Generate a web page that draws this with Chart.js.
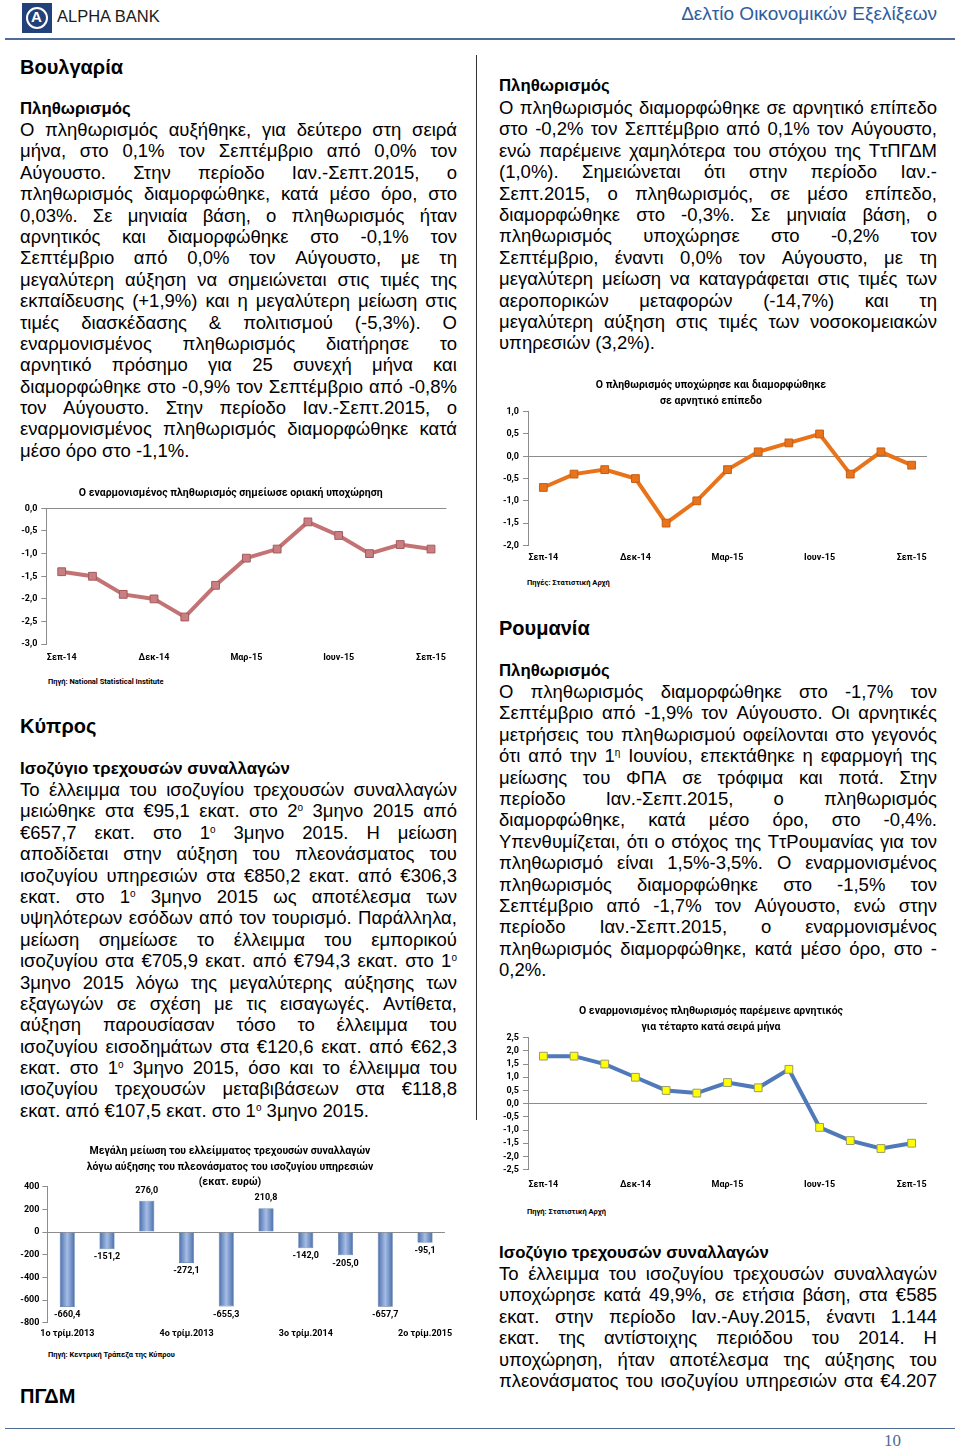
<!DOCTYPE html>
<html lang="el">
<head>
<meta charset="utf-8">
<title>Δελτίο Οικονομικών Εξελίξεων</title>
<script src="https://cdn.jsdelivr.net/npm/chart.js@4.4.1/dist/chart.umd.min.js"></script>
<style>
  body { margin: 0; width: 960px; height: 1450px; position: relative; overflow: hidden; background: #fff; color: #000;
         font-family: "Liberation Sans", Arial, sans-serif; }
  .abs { position: absolute; }
  .h1 { position: absolute; font-weight: bold; font-size: 20px; line-height: 24px; }
  .sub { position: absolute; font-weight: bold; font-size: 16.8px; line-height: 22px; }
  .txt { position: absolute; width: 437px; font-size: 18.5px; line-height: 21.4px; }
  .ln { display: flex; justify-content: space-between; white-space: nowrap; height: 21.4px; }
  .ln.last { display: block; }
  sup { font-size: 10px; line-height: 0; vertical-align: 6px; }
  canvas { position: absolute; }
  .src { position: absolute; font-family: Roboto, sans-serif; font-weight: bold; font-size: 7.5px; line-height: 10px; }
</style>
</head>
<body>

<!-- header -->
<div class="abs" style="left:22px;top:3px;width:30px;height:30px;background:#22407a;"></div>
<div class="abs" style="left:26px;top:7px;width:18px;height:18px;border:2px solid #fff;border-radius:50%;"></div>
<div class="abs" style="left:31px;top:9px;color:#fff;font-weight:bold;font-size:15px;line-height:16px;">A</div>
<div class="abs" style="left:57px;top:7px;font-size:16.5px;line-height:18px;color:#1a1a1a;">ALPHA BANK</div>
<div class="abs" style="right:23px;top:3px;font-size:19px;line-height:22px;color:#2e5c9e;">Δελτίο Οικονομικών Εξελίξεων</div>
<div class="abs" style="left:5px;top:38px;width:950px;height:2px;background:#4d6d95;"></div>

<!-- column divider -->
<div class="abs" style="left:476px;top:55px;width:1px;height:1065px;background:#333;"></div>

<!-- Bulgaria -->
<div class="h1" style="left:20px;top:55px;">Βουλγαρία</div>
<div class="sub" style="left:20px;top:98px;">Πληθωρισμός</div>
<div class="txt" style="left:20px;top:119px;">
  <div class="ln">Ο πληθωρισμός αυξήθηκε, για δεύτερο στη σειρά</div>
  <div class="ln">μήνα, στο 0,1% τον Σεπτέμβριο από 0,0% τον</div>
  <div class="ln">Αύγουστο. Στην περίοδο Ιαν.-Σεπτ.2015, ο</div>
  <div class="ln">πληθωρισμός διαμορφώθηκε, κατά μέσο όρο, στο</div>
  <div class="ln">0,03%. Σε μηνιαία βάση, ο πληθωρισμός ήταν</div>
  <div class="ln">αρνητικός και διαμορφώθηκε στο -0,1% τον</div>
  <div class="ln">Σεπτέμβριο από 0,0% τον Αύγουστο, με τη</div>
  <div class="ln">μεγαλύτερη αύξηση να σημειώνεται στις τιμές της</div>
  <div class="ln">εκπαίδευσης (+1,9%) και η μεγαλύτερη μείωση στις</div>
  <div class="ln">τιμές διασκέδασης &amp; πολιτισμού (-5,3%). Ο</div>
  <div class="ln">εναρμονισμένος πληθωρισμός διατήρησε το</div>
  <div class="ln">αρνητικό πρόσημο για 25 συνεχή μήνα και</div>
  <div class="ln">διαμορφώθηκε στο -0,9% τον Σεπτέμβριο από -0,8%</div>
  <div class="ln">τον Αύγουστο. Στην περίοδο Ιαν.-Σεπτ.2015, ο</div>
  <div class="ln">εναρμονισμένος πληθωρισμός διαμορφώθηκε κατά</div>
  <div class="ln last">μέσο όρο στο -1,1%.</div>
</div>
<canvas id="bgChart" width="440" height="191" style="left:15px;top:480px;"></canvas>
<div class="src" style="left:48px;top:677px;">Πηγή: National Statistical Institute</div>

<!-- Cyprus -->
<div class="h1" style="left:20px;top:714px;">Κύπρος</div>
<div class="sub" style="left:20px;top:758px;">Ισοζύγιο τρεχουσών συναλλαγών</div>
<div class="txt" style="left:20px;top:779px;">
  <div class="ln">Το έλλειμμα του ισοζυγίου τρεχουσών συναλλαγών</div>
  <div class="ln">μειώθηκε στα €95,1 εκατ. στο 2<sup>ο</sup> 3μηνο 2015 από</div>
  <div class="ln">€657,7 εκατ. στο 1<sup>ο</sup> 3μηνο 2015. Η μείωση</div>
  <div class="ln">αποδίδεται στην αύξηση του πλεονάσματος του</div>
  <div class="ln">ισοζυγίου υπηρεσιών στα €850,2 εκατ. από €306,3</div>
  <div class="ln">εκατ. στο 1<sup>ο</sup> 3μηνο 2015 ως αποτέλεσμα των</div>
  <div class="ln">υψηλότερων εσόδων από τον τουρισμό. Παράλληλα,</div>
  <div class="ln">μείωση σημείωσε το έλλειμμα του εμπορικού</div>
  <div class="ln">ισοζυγίου στα €705,9 εκατ. από €794,3 εκατ. στο 1<sup>ο</sup></div>
  <div class="ln">3μηνο 2015 λόγω της μεγαλύτερης αύξησης των</div>
  <div class="ln">εξαγωγών σε σχέση με τις εισαγωγές. Αντίθετα,</div>
  <div class="ln">αύξηση παρουσίασαν τόσο το έλλειμμα του</div>
  <div class="ln">ισοζυγίου εισοδημάτων στα €120,6 εκατ. από €62,3</div>
  <div class="ln">εκατ. στο 1<sup>ο</sup> 3μηνο 2015, όσο και το έλλειμμα του</div>
  <div class="ln">ισοζυγίου τρεχουσών μεταβιβάσεων στα €118,8</div>
  <div class="ln last">εκατ. από €107,5 εκατ. στο 1<sup>ο</sup> 3μηνο 2015.</div>
</div>
<canvas id="cyChart" width="450" height="204" style="left:15px;top:1140px;"></canvas>
<div class="src" style="left:48px;top:1350px;">Πηγή: Κεντρική Τράπεζα της Κύπρου</div>

<div class="h1" style="left:20px;top:1384px;">ΠΓΔΜ</div>

<!-- FYROM (continued) -->
<div class="sub" style="left:499px;top:75px;">Πληθωρισμός</div>
<div class="txt" style="left:499px;top:97px;width:438px;">
  <div class="ln">Ο πληθωρισμός διαμορφώθηκε σε αρνητικό επίπεδο</div>
  <div class="ln">στο -0,2% τον Σεπτέμβριο από 0,1% τον Αύγουστο,</div>
  <div class="ln">ενώ παρέμεινε χαμηλότερα του στόχου της ΤτΠΓΔΜ</div>
  <div class="ln">(1,0%). Σημειώνεται ότι στην περίοδο Ιαν.-</div>
  <div class="ln">Σεπτ.2015, ο πληθωρισμός, σε μέσο επίπεδο,</div>
  <div class="ln">διαμορφώθηκε στο -0,3%. Σε μηνιαία βάση, ο</div>
  <div class="ln">πληθωρισμός υποχώρησε στο -0,2% τον</div>
  <div class="ln">Σεπτέμβριο, έναντι 0,0% τον Αύγουστο, με τη</div>
  <div class="ln">μεγαλύτερη μείωση να καταγράφεται στις τιμές των</div>
  <div class="ln">αεροπορικών μεταφορών (-14,7%) και τη</div>
  <div class="ln">μεγαλύτερη αύξηση στις τιμές των νοσοκομειακών</div>
  <div class="ln last">υπηρεσιών (3,2%).</div>
</div>
<canvas id="mkChart" width="445" height="199" style="left:495px;top:372px;"></canvas>
<div class="src" style="left:527px;top:578px;">Πηγές: Στατιστική Αρχή</div>

<!-- Romania -->
<div class="h1" style="left:499px;top:616px;">Ρουμανία</div>
<div class="sub" style="left:499px;top:660px;">Πληθωρισμός</div>
<div class="txt" style="left:499px;top:681px;width:438px;">
  <div class="ln">Ο πληθωρισμός διαμορφώθηκε στο -1,7% τον</div>
  <div class="ln">Σεπτέμβριο από -1,9% τον Αύγουστο. Οι αρνητικές</div>
  <div class="ln">μετρήσεις του πληθωρισμού οφείλονται στο γεγονός</div>
  <div class="ln">ότι από την 1<sup>η</sup> Ιουνίου, επεκτάθηκε η εφαρμογή της</div>
  <div class="ln">μείωσης του ΦΠΑ σε τρόφιμα και ποτά. Στην</div>
  <div class="ln">περίοδο Ιαν.-Σεπτ.2015, ο πληθωρισμός</div>
  <div class="ln">διαμορφώθηκε, κατά μέσο όρο, στο -0,4%.</div>
  <div class="ln">Υπενθυμίζεται, ότι ο στόχος της ΤτΡουμανίας για τον</div>
  <div class="ln">πληθωρισμό είναι 1,5%-3,5%. Ο εναρμονισμένος</div>
  <div class="ln">πληθωρισμός διαμορφώθηκε στο -1,5% τον</div>
  <div class="ln">Σεπτέμβριο από -1,7% τον Αύγουστο, ενώ στην</div>
  <div class="ln">περίοδο Ιαν.-Σεπτ.2015, ο εναρμονισμένος</div>
  <div class="ln">πληθωρισμός διαμορφώθηκε, κατά μέσο όρο, στο -</div>
  <div class="ln last">0,2%.</div>
</div>
<canvas id="roChart" width="445" height="201" style="left:495px;top:998px;"></canvas>
<div class="src" style="left:527px;top:1207px;">Πηγή: Στατιστική Αρχή</div>

<div class="sub" style="left:499px;top:1242px;">Ισοζύγιο τρεχουσών συναλλαγών</div>
<div class="txt" style="left:499px;top:1263px;width:438px;">
  <div class="ln">Το έλλειμμα του ισοζυγίου τρεχουσών συναλλαγών</div>
  <div class="ln">υποχώρησε κατά 49,9%, σε ετήσια βάση, στα €585</div>
  <div class="ln">εκατ. στην περίοδο Ιαν.-Αυγ.2015, έναντι 1.144</div>
  <div class="ln">εκατ. της αντίστοιχης περιόδου του 2014.  Η</div>
  <div class="ln">υποχώρηση, ήταν αποτέλεσμα της αύξησης του</div>
  <div class="ln">πλεονάσματος του ισοζυγίου υπηρεσιών στα €4.207</div>
</div>

<!-- footer -->
<div class="abs" style="left:5px;top:1428px;width:950px;height:1px;background:#4d6d95;"></div>
<div class="abs" style="left:884px;top:1431px;font-family:'Liberation Serif',serif;font-size:17px;line-height:20px;color:#4d6d95;">10</div>

<script>
// monthly series, Sep-14 .. Sep-15
const months = ["Σεπ-14", "Οκτ-14", "Νοε-14", "Δεκ-14", "Ιαν-15", "Φεβ-15", "Μαρ-15",
                "Απρ-15", "Μαϊ-15", "Ιουν-15", "Ιουλ-15", "Αυγ-15", "Σεπ-15"];
const bgHicp = [-1.4, -1.5, -1.9, -2.0, -2.4, -1.7, -1.1, -0.9, -0.3, -0.6, -1.0, -0.8, -0.9];
const mkCpi = [-0.7, -0.4, -0.3, -0.5, -1.5, -1.0, -0.3, 0.1, 0.3, 0.5, -0.4, 0.1, -0.2];
const roHicp = [1.8, 1.8, 1.5, 1.0, 0.5, 0.4, 0.8, 0.6, 1.3, -0.9, -1.4, -1.7, -1.5];

// quarterly current account, Cyprus (EUR mn)
const quarters = ["1ο τρίμ.2013", "2ο τρίμ.2013", "3ο τρίμ.2013", "4ο τρίμ.2013",
                  "1ο τρίμ.2014", "2ο τρίμ.2014", "3ο τρίμ.2014", "4ο τρίμ.2014",
                  "1ο τρίμ.2015", "2ο τρίμ.2015"];
const cyCurrent = [-660.4, -151.2, 276.0, -272.1, -655.3, 210.8, -142.0, -205.0, -657.7, -95.1];

// axis ranges [min, max, step]
const bgRange = [-3, 0, 0.5];
const mkRange = [-2, 1, 0.5];
const roRange = [-2.5, 2.5, 0.5];
const cyRange = [-800, 400, 200];

// turn each justified line into spread words
document.querySelectorAll(".ln:not(.last)").forEach(ln => {
  const words = ln.innerHTML.trim().split(/\s+/);
  ln.innerHTML = words.map(w => "<span>" + w + "</span>").join("");
});

const chartFont = "Roboto, 'Noto Sans', sans-serif";
const axisGray = "#8c8c8c";
const comma = (v, d) => Number(v).toFixed(d).replace(".", ",");

Chart.defaults.font.family = chartFont;
Chart.defaults.color = "#000";

function lineChart(id, data, range, cfg) {
  const ctx = document.getElementById(id).getContext("2d");
  return new Chart(ctx, {
    type: "line",
    data: {
      labels: months,
      datasets: [{
        data: data,
        borderColor: cfg.line,
        borderWidth: 4,
        tension: 0,
        pointStyle: "rect",
        pointRadius: 5.5,
        pointBackgroundColor: cfg.fill,
        pointBorderColor: cfg.edge,
        pointBorderWidth: 1,
      }],
    },
    options: {
      responsive: false,
      animation: false,
      layout: { padding: { left: 0, right: cfg.padRight, top: 0, bottom: 0 } },
      plugins: {
        legend: { display: false },
        tooltip: { enabled: false },
        title: {
          display: true,
          text: cfg.title,
          font: { size: 10.5, weight: "bold", lineHeight: cfg.titleLh },
          color: "#000",
          padding: cfg.titlePad,
        },
      },
      scales: {
        x: {
          offset: true,
          grid: { display: false, drawTicks: false },
          border: { display: false },
          ticks: {
            autoSkip: false,
            maxRotation: 0,
            padding: cfg.xPad,
            font: { size: 9, weight: "bold" },
            callback: (v, i) => (i % 3 === 0 ? months[i] : ""),
          },
        },
        y: {
          min: range[0],
          max: range[1],
          afterFit: s => { s.width = cfg.yWidth; },
          grid: {
            color: c => (c.tick && c.tick.value === 0 ? axisGray : "rgba(0,0,0,0)"),
            tickColor: axisGray,
            tickLength: 5,
          },
          border: { display: true, color: axisGray },
          ticks: {
            stepSize: range[2],
            autoSkip: false,
            padding: 4,
            font: { size: 9, weight: "bold" },
            callback: v => comma(v, 1),
          },
        },
      },
    },
  });
}

lineChart("bgChart", bgHicp, bgRange, {
  title: "Ο εναρμονισμένος πληθωρισμός σημείωσε οριακή υποχώρηση",
  titleLh: 1.2,
  titlePad: { top: 7.4, bottom: 8.3 },
  line: "#c47374", fill: "#c97f81", edge: "#a35a5c",
  xPad: 8, yWidth: 31.3, padRight: 8.6,
});

lineChart("mkChart", mkCpi, mkRange, {
  title: ["Ο πληθωρισμός υποχώρησε και διαμορφώθηκε", "σε αρνητικό επίπεδο"],
  titleLh: 1.524,
  titlePad: { top: 5, bottom: 2.7 },
  line: "#e8731a", fill: "#e8731a", edge: "#c85f10",
  xPad: 7.4, yWidth: 33, padRight: 13,
});

lineChart("roChart", roHicp, roRange, {
  title: ["Ο εναρμονισμένος πληθωρισμός παρέμεινε αρνητικός", "για τέταρτο κατά σειρά μήνα"],
  titleLh: 1.57,
  titlePad: { top: 4.85, bottom: 1.85 },
  line: "#4f79b8", fill: "#ffff00", edge: "#9a9a6a",
  xPad: 9.3, yWidth: 33, padRight: 13,
});

// value labels for the bars
const barLabels = {
  id: "barLabels",
  afterDatasetsDraw(chart) {
    const { ctx } = chart;
    const meta = chart.getDatasetMeta(0);
    ctx.save();
    ctx.font = "bold 9px " + chartFont;
    ctx.fillStyle = "#000";
    ctx.textAlign = "center";
    ctx.textBaseline = "middle";
    meta.data.forEach((bar, i) => {
      const v = chart.data.datasets[0].data[i];
      ctx.fillText(comma(v, 1), bar.x, v >= 0 ? bar.y - 10 : bar.y + 8);
    });
    ctx.restore();
  },
};

new Chart(document.getElementById("cyChart").getContext("2d"), {
  type: "bar",
  data: {
    labels: quarters,
    datasets: [{
      data: cyCurrent,
      backgroundColor: c => {
        const x = c.chart.scales.x;
        if (!x || !x.width) return "#7094cc";
        const cx = x.getPixelForValue(c.dataIndex);
        const g = c.chart.ctx.createLinearGradient(cx - 7.5, 0, cx + 7.5, 0);
        g.addColorStop(0, "#4a6ea9");
        g.addColorStop(0.5, "#a5bde6");
        g.addColorStop(1, "#4a6ea9");
        return g;
      },
      borderColor: "#4a6a9e",
      borderWidth: 0.6,
      barPercentage: 0.38,
      categoryPercentage: 1,
    }],
  },
  options: {
    responsive: false,
    animation: false,
    layout: { padding: { left: 0, right: 20.1, top: 0, bottom: 0 } },
    plugins: {
      legend: { display: false },
      tooltip: { enabled: false },
      title: {
        display: true,
        text: ["Μεγάλη μείωση του ελλείμματος τρεχουσών συναλλαγών",
               "λόγω αύξησης του πλεονάσματος του ισοζυγίου υπηρεσιών",
               "(εκατ. ευρώ)"],
        font: { size: 10.5, weight: "bold", lineHeight: 1.476 },
        color: "#000",
        padding: { top: 3.95, bottom: -3.75 },
      },
    },
    scales: {
      x: {
        grid: { display: false, drawTicks: false },
        border: { display: false },
        ticks: {
          autoSkip: false,
          maxRotation: 0,
          padding: 5.2,
          font: { size: 9, weight: "bold" },
          callback: (v, i) => (i % 3 === 0 ? quarters[i] : ""),
        },
      },
      y: {
        min: cyRange[0],
        max: cyRange[1],
        afterFit: s => { s.width = 32.4; },
        grid: {
          color: c => (c.tick && c.tick.value === 0 ? axisGray : "rgba(0,0,0,0)"),
          tickColor: axisGray,
          tickLength: 5,
        },
        border: { display: true, color: axisGray },
        ticks: {
          stepSize: cyRange[2],
          autoSkip: false,
          padding: 3,
          font: { size: 9, weight: "bold" },
        },
      },
    },
  },
  plugins: [barLabels],
});
</script>
</body>
</html>
